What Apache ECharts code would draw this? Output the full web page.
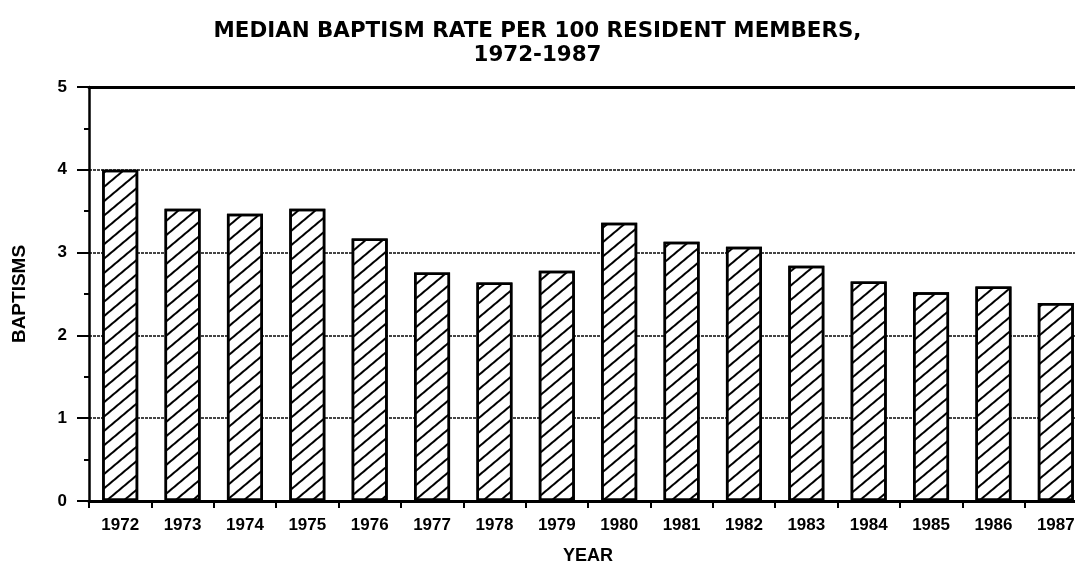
<!DOCTYPE html>
<html>
<head>
<meta charset="utf-8">
<script src="https://cdn.jsdelivr.net/npm/echarts@6/dist/echarts.min.js"></script>
<style>
html,body{margin:0;padding:0;background:#fff;}
#chart{width:1075px;height:578px;}
</style>
</head>
<body>
<div id="chart"></div>
<script>
var titleText = 'MEDIAN BAPTISM RATE PER 100 RESIDENT MEMBERS,\n1972-1987';
var years = ['1972','1973','1974','1975','1976','1977','1978','1979','1980','1981','1982','1983','1984','1985','1986','1987'];
var baptismRate = [4.0, 3.53, 3.47, 3.53, 3.17, 2.76, 2.64, 2.78, 3.36, 3.13, 3.07, 2.84, 2.65, 2.52, 2.59, 2.39];
var yAxisName = 'BAPTISMS';
var xAxisName = 'YEAR';

var chart = echarts.init(document.getElementById('chart'), null, {renderer:'canvas'});
var lblFont = '"Liberation Sans", Arial, sans-serif';
chart.setOption({
  animation: false,
  backgroundColor: '#fff',
  title: {
    text: titleText,
    left: 'center',
    top: 14,
    textStyle: {
      fontFamily: '"DejaVu Sans", sans-serif',
      fontWeight: 'bold',
      fontSize: 21.4,
      lineHeight: 24,
      color: '#000',
      align: 'center'
    }
  },
  grid: { left: 89, top: 87, right: -12, bottom: 77, containLabel: false, outerBoundsMode: 'none' },
  xAxis: [{
    type: 'category',
    data: years,
    position: 'bottom',
    name: xAxisName,
    nameLocation: 'middle',
    nameGap: 46,
    nameTextStyle: { fontFamily: lblFont, fontWeight: 'bold', fontSize: 18, color: '#000' },
    axisLine: { show: true, lineStyle: { color: '#000', width: 3 } },
    axisTick: { show: true, length: 7, lineStyle: { color: '#000', width: 2 } },
    axisLabel: { margin: 16, fontFamily: lblFont, fontWeight: 'bold', fontSize: 17, color: '#000' },
    splitLine: { show: false }
  }, {
    type: 'category',
    data: years,
    position: 'top',
    axisLine: { show: true, lineStyle: { color: '#000', width: 3 } },
    axisTick: { show: false },
    axisLabel: { show: false },
    splitLine: { show: false }
  }],
  yAxis: {
    type: 'value',
    min: 0, max: 5, interval: 1,
    name: yAxisName,
    nameLocation: 'middle',
    nameGap: 60,
    nameRotate: 90,
    nameTextStyle: { fontFamily: lblFont, fontWeight: 'bold', fontSize: 19, color: '#000' },
    axisLine: { show: true, lineStyle: { color: '#000', width: 2.5 } },
    axisTick: { show: true, length: 12, lineStyle: { color: '#000', width: 2 } },
    minorTick: { show: true, splitNumber: 2, length: 5, lineStyle: { color: '#000', width: 2 } },
    axisLabel: { margin: 22, fontFamily: lblFont, fontWeight: 'bold', fontSize: 17, color: '#000' },
    splitLine: { show: true, lineStyle: { color: '#444', width: 2, type: [3, 1] } }
  },
  series: [{
    type: 'bar',
    data: baptismRate,
    barWidth: 36,
    itemStyle: {
      color: '#fff',
      borderColor: '#000',
      borderWidth: 2.5,
      decal: {
        symbol: 'rect',
        symbolSize: 1,
        dashArrayX: [1, 0],
        dashArrayY: [1.6, 8.4],
        rotation: -40 * Math.PI / 180,
        color: '#000'
      }
    }
  }]
});
</script>
</body>
</html>
